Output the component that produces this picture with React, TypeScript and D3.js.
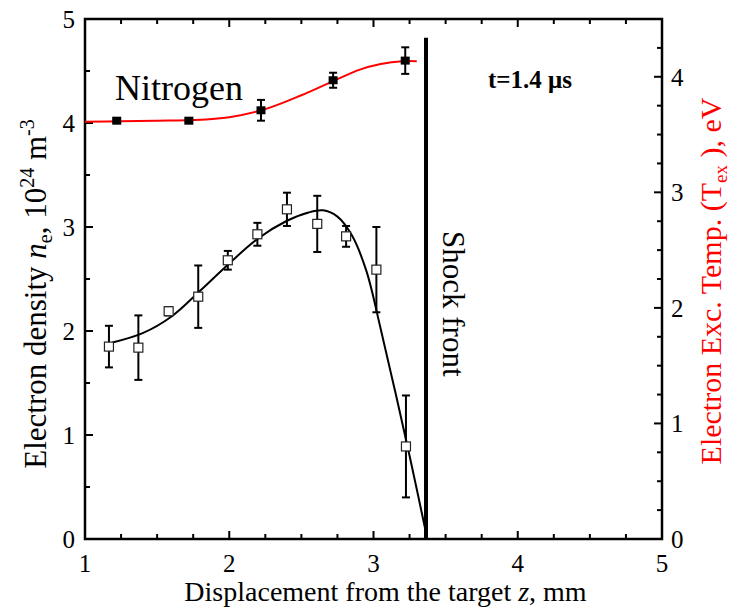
import React from "react";
import * as d3 from "d3";

// Electron density (left axis, 10^24 m^-3)
const densX = [1.166, 1.37, 1.58, 1.785, 1.99, 2.195, 2.40, 2.61, 2.81, 3.02, 3.225];
const densY = [1.85, 1.84, 2.19, 2.33, 2.68, 2.93, 3.17, 3.03, 2.91, 2.59, 0.89];
const densErr = [0.2, 0.31, 0.04, 0.3, 0.09, 0.11, 0.16, 0.27, 0.1, 0.41, 0.49];

// Density fit curve
const densFitX = [1.19, 1.4, 1.6, 1.8, 2.0, 2.2, 2.4, 2.55, 2.65, 2.75, 2.85, 2.95, 3.05, 3.15, 3.25, 3.364];
const densFitY = [1.89, 1.98, 2.14, 2.39, 2.65, 2.89, 3.06, 3.14, 3.16, 3.1, 2.92, 2.58, 2.02, 1.42, 0.8, 0.06];

// Electron excitation temperature (right axis, eV)
const tempX = [1.22, 1.72, 2.22, 2.72, 3.22];
const tempY = [3.62, 3.62, 3.71, 3.97, 4.14];
const tempErr = [0.015, 0.015, 0.09, 0.065, 0.115];

// Temperature fit curve
const tempFitX = [1.0, 1.25, 1.5, 1.75, 2.0, 2.25, 2.5, 2.75, 2.9, 3.05, 3.2, 3.3];
const tempFitY = [3.61, 3.615, 3.62, 3.625, 3.65, 3.72, 3.84, 3.98, 4.06, 4.11, 4.135, 4.135];

const shockX = 3.364;
const shockTop = 4.82;

const xTicks = [1, 2, 3, 4, 5];
const yLeftTicks = [0, 1, 2, 3, 4, 5];
const yRightTicks = [0, 1, 2, 3, 4];

const FONT = "'Liberation Serif', 'Times New Roman', serif";

export default function App() {
  const L = 85, R = 662, T = 19, B = 539;
  const x = d3.scaleLinear().domain([1, 5]).range([L, R]);
  const yL = d3.scaleLinear().domain([0, 5]).range([B, T]);
  const yR = d3.scaleLinear().domain([0, 4.5]).range([B, T]);

  const densLine = d3
    .line<number>()
    .x((_, i) => x(densFitX[i]))
    .y((v) => yL(v))
    .curve(d3.curveCatmullRom.alpha(0.5));
  const tempLine = d3
    .line<number>()
    .x((_, i) => x(tempFitX[i]))
    .y((v) => yR(v))
    .curve(d3.curveCatmullRom.alpha(0.5));

  const xMinor = d3.range(1, 5.001, 0.25).filter((v) => Math.abs(v - Math.round(v)) > 0.01);
  const yLMinor = d3.range(0.5, 5, 1);
  const yRMinor = d3.range(0, 4.501, 0.25).filter((v) => Math.abs(v - Math.round(v)) > 0.01);

  const major = 8, minor = 5;

  return (
    <svg
      width={737}
      height={609}
      style={{ position: "absolute", left: 0, top: 0, background: "#fff" }}
      fontFamily={FONT}
    >
      {/* ticks */}
      <g stroke="#000" strokeWidth={2}>
        {xTicks.map((v) => (
          <g key={"xt" + v}>
            <line x1={x(v)} x2={x(v)} y1={B} y2={B - major} />
            <line x1={x(v)} x2={x(v)} y1={T} y2={T + major} />
          </g>
        ))}
        {xMinor.map((v) => (
          <g key={"xm" + v}>
            <line x1={x(v)} x2={x(v)} y1={B} y2={B - minor} />
            <line x1={x(v)} x2={x(v)} y1={T} y2={T + minor} />
          </g>
        ))}
        {yLeftTicks.map((v) => (
          <line key={"yl" + v} x1={L} x2={L + major} y1={yL(v)} y2={yL(v)} />
        ))}
        {yLMinor.map((v) => (
          <line key={"ylm" + v} x1={L} x2={L + minor} y1={yL(v)} y2={yL(v)} />
        ))}
        {yRightTicks.map((v) => (
          <line key={"yr" + v} x1={R} x2={R - major} y1={yR(v)} y2={yR(v)} />
        ))}
        {yRMinor.map((v) => (
          <line key={"yrm" + v} x1={R} x2={R - minor} y1={yR(v)} y2={yR(v)} />
        ))}
      </g>

      {/* frame */}
      <rect x={L} y={T} width={R - L} height={B - T} fill="none" stroke="#000" strokeWidth={2.5} />

      {/* tick labels */}
      <g fontSize={25} fill="#000">
        {xTicks.map((v) => (
          <text key={"xl" + v} x={x(v)} y={572} textAnchor="middle">
            {v}
          </text>
        ))}
        {yLeftTicks.map((v) => (
          <text key={"yll" + v} x={75} y={yL(v)} dy="0.35em" textAnchor="end">
            {v}
          </text>
        ))}
        {yRightTicks.map((v) => (
          <text key={"yrl" + v} x={671} y={yR(v)} dy="0.35em" textAnchor="start">
            {v}
          </text>
        ))}
      </g>

      {/* shock front line */}
      <line x1={x(shockX)} x2={x(shockX)} y1={yL(shockTop)} y2={B} stroke="#000" strokeWidth={4} />

      {/* temperature fit */}
      <path d={tempLine(tempFitY) || ""} fill="none" stroke="#ff0000" strokeWidth={2} />

      {/* density fit */}
      <path d={densLine(densFitY) || ""} fill="none" stroke="#000" strokeWidth={2} />

      {/* density error bars */}
      <g stroke="#000" strokeWidth={2}>
        {densX.map((xv, i) => (
          <g key={"de" + i}>
            <line x1={x(xv)} x2={x(xv)} y1={yL(densY[i] - densErr[i])} y2={yL(densY[i] + densErr[i])} />
            <line x1={x(xv) - 4} x2={x(xv) + 4} y1={yL(densY[i] - densErr[i])} y2={yL(densY[i] - densErr[i])} />
            <line x1={x(xv) - 4} x2={x(xv) + 4} y1={yL(densY[i] + densErr[i])} y2={yL(densY[i] + densErr[i])} />
          </g>
        ))}
      </g>
      {densX.map((xv, i) => (
        <rect
          key={"dp" + i}
          x={x(xv) - 4.5}
          y={yL(densY[i]) - 4.5}
          width={9}
          height={9}
          fill="#fff"
          stroke="#222"
          strokeWidth={1.2}
        />
      ))}

      {/* temperature error bars and points */}
      <g stroke="#000" strokeWidth={2}>
        {tempX.map((xv, i) => (
          <g key={"te" + i}>
            <line x1={x(xv)} x2={x(xv)} y1={yR(tempY[i] - tempErr[i])} y2={yR(tempY[i] + tempErr[i])} />
            <line x1={x(xv) - 4} x2={x(xv) + 4} y1={yR(tempY[i] - tempErr[i])} y2={yR(tempY[i] - tempErr[i])} />
            <line x1={x(xv) - 4} x2={x(xv) + 4} y1={yR(tempY[i] + tempErr[i])} y2={yR(tempY[i] + tempErr[i])} />
          </g>
        ))}
      </g>
      {tempX.map((xv, i) => (
        <rect key={"tp" + i} x={x(xv) - 4.5} y={yR(tempY[i]) - 4} width={9} height={8} fill="#000" />
      ))}

      {/* annotations */}
      <text x={115} y={100} fontSize={36} fill="#000">
        Nitrogen
      </text>
      <text x={488} y={88} fontSize={25} fontWeight="bold" fill="#000">
        t=1.4 μs
      </text>
      <text transform="translate(443,231) rotate(90)" fontSize={31} fill="#000">
        Shock front
      </text>

      {/* axis titles */}
      <text x={(L + R) / 2 + 12} y={601} fontSize={28} textAnchor="middle" fill="#000">
        Displacement from the target <tspan fontStyle="italic">z</tspan>, mm
      </text>
      <text transform="translate(46,294) rotate(-90)" fontSize={31} textAnchor="middle" fill="#000">
        Electron density <tspan fontStyle="italic">n</tspan>
        <tspan fontSize={20} dy={6}>e</tspan>
        <tspan dy={-6}>, 10</tspan>
        <tspan fontSize={20} dy={-12}>24</tspan>
        <tspan dy={12}> m</tspan>
        <tspan fontSize={20} dy={-12}>-3</tspan>
      </text>
      <text transform="translate(721,281) rotate(-90)" fontSize={30} textAnchor="middle" fill="#ff0000">
        Electron Exc. Temp. (T<tspan fontSize={19} dy={6}>ex</tspan>
        <tspan dy={-6}> ), eV</tspan>
      </text>
    </svg>
  );
}
